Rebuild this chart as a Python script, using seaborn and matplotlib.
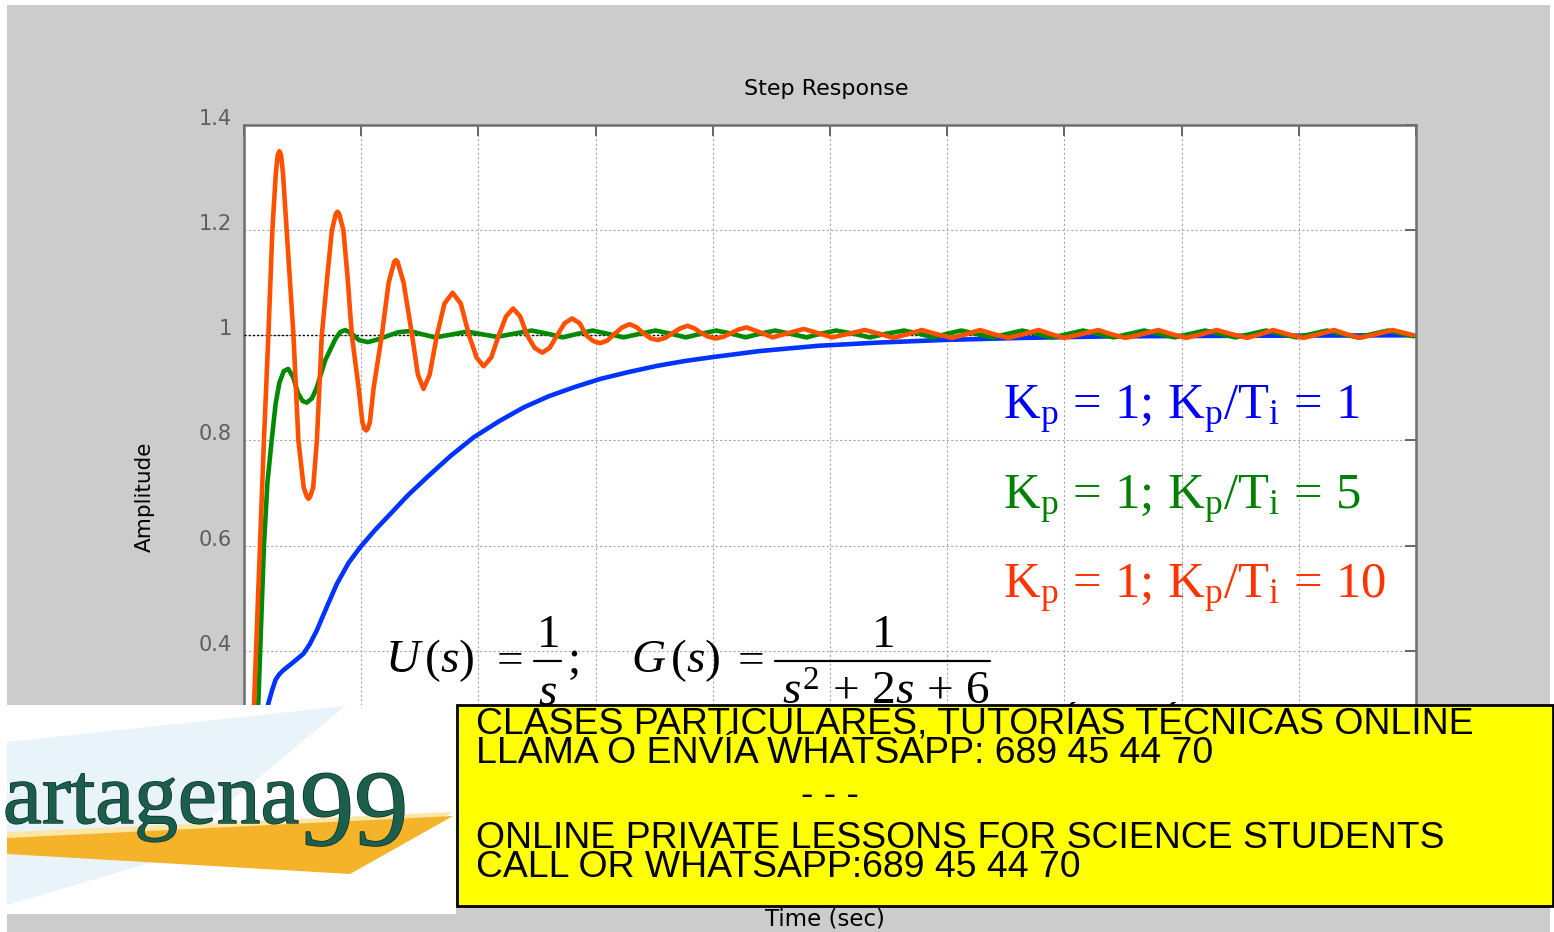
import matplotlib
matplotlib.use("Agg")
import matplotlib.pyplot as plt
import matplotlib.patheffects as pe
from matplotlib.patches import Rectangle, Polygon
from matplotlib.lines import Line2D
import pandas as pd
import seaborn as sns

# ---- step responses of the PI loop, Kp = 1 and Kp/Ti = 1, 5, 10 ----
t_ki1 = [0.0, 0.25, 0.5, 0.75, 0.9, 1.04, 1.2, 1.35, 1.5, 1.68, 2.10, 2.53,
         2.80, 3.11, 3.50, 3.96, 4.46, 4.96, 5.60, 6.24, 7.00, 7.81, 8.80,
         9.80, 10.90, 11.94, 13.00, 14.07, 15.20, 16.40, 17.64, 18.80, 19.91,
         22.00, 24.49, 27.00, 29.80, 33.20, 37.00, 42.00, 49.90]
y_ki1 = [0.000, 0.03, 0.11, 0.21, 0.255, 0.300, 0.325, 0.345, 0.355, 0.363,
         0.378, 0.394, 0.412, 0.439, 0.480, 0.527, 0.567, 0.597, 0.630, 0.660,
         0.696, 0.730, 0.770, 0.806, 0.837, 0.863, 0.884, 0.901, 0.917, 0.930,
         0.942, 0.951, 0.958, 0.970, 0.980, 0.986, 0.991, 0.995, 0.998, 0.999,
         1.000]

t_ki5 = [0.0, 0.3, 0.61, 0.85, 1.0, 1.18, 1.35, 1.51, 1.70, 1.89,
         2.10, 2.30, 2.50, 2.68, 2.90, 3.10, 3.46, 3.90, 4.10, 4.32,
         4.60, 4.90, 5.28, 5.70, 6.20, 6.60, 7.09, 7.60, 8.16, 8.80,
         9.52, 10.15, 10.80, 11.50, 12.28, 12.95, 13.60, 14.25, 14.87, 15.50,
         16.20, 16.90, 17.55, 18.20, 18.85, 19.50, 20.15, 20.80, 21.40, 22.00,
         22.66, 23.30, 24.00, 24.60, 25.26, 26.00, 26.70, 27.40, 28.16, 28.80,
         29.40, 30.00, 30.60, 31.90, 33.20, 34.50, 35.80, 37.10, 38.40, 39.70,
         41.00, 42.30, 43.60, 44.90, 46.20, 47.50, 48.80, 49.90]
y_ki5 = [0.000, 0.10, 0.30, 0.60, 0.72, 0.80, 0.87, 0.91, 0.932, 0.936,
         0.92, 0.89, 0.875, 0.872, 0.88, 0.90, 0.952, 0.993, 1.006, 1.010,
         1.003, 0.991, 0.987, 0.992, 1.000, 1.006, 1.008, 1.002, 0.996, 1.001,
         1.007, 1.002, 0.997, 1.003, 1.009, 1.003, 0.996, 1.003, 1.009, 1.003,
         0.996, 1.003, 1.009, 1.003, 0.996, 1.003, 1.009, 1.003, 0.996, 1.003,
         1.009, 1.003, 0.996, 1.003, 1.009, 1.003, 0.996, 1.003, 1.009, 1.003,
         0.996, 1.003, 1.009, 0.996, 1.009, 0.996, 1.009, 0.996, 1.009, 0.996,
         1.009, 0.996, 1.009, 0.996, 1.009, 0.996, 1.009, 0.998]

t_ki10 = [0.0, 0.2, 0.43, 0.68, 0.85, 1.04, 1.21, 1.36, 1.44, 1.51,
          1.58, 1.66, 1.82, 2.11, 2.32, 2.55, 2.68, 2.75, 2.82, 2.95,
          3.11, 3.32, 3.55, 3.75, 3.92, 3.99, 4.06, 4.24, 4.42, 4.60,
          4.89, 5.05, 5.14, 5.21, 5.28, 5.37, 5.53, 5.88, 6.17, 6.41,
          6.48, 6.55, 6.81, 7.17,
          7.42, 7.66, 7.92, 8.23, 8.55, 8.90,
          9.25, 9.60, 9.92, 10.22, 10.55, 10.87, 11.18, 11.48, 11.78, 12.08,
          12.40, 12.72, 13.04, 13.36, 13.68, 14.00, 14.32, 14.60, 14.90, 15.19,
          15.50, 15.82, 16.13, 16.45, 16.76, 17.06, 17.35, 17.65, 17.97, 18.28,
          18.60, 18.92, 19.22, 19.52, 19.83, 20.13, 20.45, 20.78, 21.10, 21.44,
          21.99, 22.55, 23.20, 23.88, 24.50, 25.10, 25.80, 26.48, 27.10, 27.70,
          28.30, 28.92, 29.56, 30.20, 30.80, 31.40, 32.00, 32.60, 33.25, 33.90,
          34.45, 35.00, 35.70, 36.45, 37.00, 37.60, 38.30, 39.00, 39.60, 40.20,
          40.85, 41.50, 42.15, 42.80, 43.35, 43.90, 44.55, 45.20, 45.85, 46.50,
          47.05, 47.60, 48.30, 49.00, 49.90]
y_ki10 = [0.000, 0.07, 0.30, 0.60, 0.80, 1.00, 1.20, 1.31, 1.343, 1.350,
          1.343, 1.31, 1.20, 1.00, 0.80, 0.71, 0.693, 0.689, 0.693, 0.71,
          0.80, 1.00, 1.11, 1.20, 1.231, 1.235, 1.231, 1.20, 1.11, 1.00,
          0.90, 0.835, 0.822, 0.819, 0.822, 0.835, 0.90, 1.00, 1.10, 1.140,
          1.143, 1.140, 1.10, 1.00,
          0.925, 0.898, 0.925, 1.00, 1.06, 1.081,
          1.06, 1.00, 0.958, 0.941, 0.958, 1.00, 1.036, 1.051, 1.036, 1.00,
          0.976, 0.967, 0.976, 1.00, 1.023, 1.032, 1.023, 1.00, 0.989, 0.985,
          0.990, 1.003, 1.015, 1.021, 1.015, 1.003, 0.994, 0.991, 0.995, 1.004,
          1.013, 1.018, 1.013, 1.004, 0.997, 0.994, 0.997, 1.004, 1.011, 1.015,
          1.006, 0.996, 1.004, 1.012, 1.004, 0.996, 1.003, 1.010, 1.003, 0.995,
          1.002, 1.010, 1.002, 0.995, 1.002, 1.010, 1.002, 0.995, 1.002, 1.010,
          1.002, 0.995, 1.002, 1.010, 1.002, 0.995, 1.002, 1.010, 1.002, 0.995,
          1.002, 1.010, 1.002, 0.995, 1.002, 1.010, 1.002, 0.995, 1.002, 1.010,
          1.002, 0.995, 1.002, 1.010, 1.000]

series_names = ["Kp/Ti = 1", "Kp/Ti = 5", "Kp/Ti = 10"]
line_colors = ["#0033ff", "#008a00", "#ff5000"]
label_texts = [r"$\mathrm{K_p\,=\,1;\,K_p/T_i\,=\,1}$",
               r"$\mathrm{K_p\,=\,1;\,K_p/T_i\,=\,5}$",
               r"$\mathrm{K_p\,=\,1;\,K_p/T_i\,=\,10}$"]
label_colors = ["#0000ff", "#008000", "#ff3300"]

x_ticks = [0, 5, 10, 15, 20, 25, 30, 35, 40, 45, 50]
y_ticks = [0, 0.2, 0.4, 0.6, 0.8, 1.0, 1.2, 1.4]
y_tick_labels = ["0", "0.2", "0.4", "0.6", "0.8", "1", "1.2", "1.4"]

banner_lines = ["CLASES PARTICULARES, TUTORÍAS TÉCNICAS ONLINE",
                "LLAMA O ENVÍA WHATSAPP: 689 45 44 70",
                "- - -",
                "ONLINE PRIVATE LESSONS FOR SCIENCE STUDENTS",
                "CALL OR WHATSAPP:689 45 44 70"]

frames = []
for name, t, y in zip(series_names, [t_ki1, t_ki5, t_ki10], [y_ki1, y_ki5, y_ki10]):
    frames.append(pd.DataFrame({"Time": t, "Amplitude": y, "series": name}))
data = pd.concat(frames, ignore_index=True)

sns.set_style("white")
plt.rcParams["font.family"] = ["DejaVu Sans"]
plt.rcParams["mathtext.fontset"] = "custom"
plt.rcParams["mathtext.rm"] = "Liberation Serif"
plt.rcParams["mathtext.it"] = "Liberation Serif:italic"
plt.rcParams["mathtext.bf"] = "Liberation Serif:bold"

W, H = 1554, 932
fig = plt.figure(figsize=(W / 100, H / 100), dpi=100, facecolor="white")


def fx(px):
    return px / W


def fy(py):
    return 1 - py / H


def fig_rect(x0, y0, x1, y1, **kw):
    r = Rectangle((fx(x0), fy(y1)), (x1 - x0) / W, (y1 - y0) / H,
                  transform=fig.transFigure, **kw)
    fig.add_artist(r)
    return r


def fig_poly(points, **kw):
    p = Polygon([(fx(x), fy(y)) for x, y in points], closed=True,
                transform=fig.transFigure, **kw)
    fig.add_artist(p)
    return p


def fig_hline(x0, x1, y, **kw):
    ln = Line2D([fx(x0), fx(x1)], [fy(y), fy(y)], transform=fig.transFigure, **kw)
    fig.add_artist(ln)
    return ln


# grey window background
fig_rect(7, 5, 1550, 932, facecolor="#cccccc", edgecolor="none", zorder=-10)

ax = fig.add_axes([fx(244), fy(861), (1416 - 244) / W, (861 - 125) / H])
ax.set_facecolor("white")

sns.lineplot(data=data, x="Time", y="Amplitude", hue="series",
             hue_order=series_names, palette=line_colors, sort=False,
             estimator=None, linewidth=3.3, legend=False, ax=ax, zorder=4)

ax.set_xlim(0, 50)
ax.set_ylim(0, 1.4)
ax.set_xticks(x_ticks)
ax.set_yticks(y_ticks)
ax.set_yticklabels(y_tick_labels)
ax.grid(True, color="#a8a8a8", linestyle=(0, (2, 2)), linewidth=0.8)
ax.axhline(1.0, color="black", linestyle=(0, (1.5, 1.5)), linewidth=1.0, zorder=3)
for s in ax.spines.values():
    s.set_color("#6e6e6e")
    s.set_linewidth(1.8)
ax.tick_params(direction="in", length=8, width=1.4, color="#666666",
               top=True, right=True, labelsize=15, labelcolor="#5e5e5e", pad=9,
               labelbottom=False)
for lbl in ax.get_yticklabels():
    lbl.set_verticalalignment("baseline")

ax.text(0.497, 1.049, "Step Response", transform=ax.transAxes, ha="center",
        va="center", fontsize=16, color="black")
ax.set_ylabel("Amplitude", fontsize=15.5, color="black")
ax.yaxis.set_label_coords(-0.076, 0.4946)
ax.set_xlabel("Time (sec)", fontsize=16.5, color="black")
ax.xaxis.set_label_coords(0.496, -0.063)

# gain labels
for txt, col, yv in zip(label_texts, label_colors, [0.841, 0.670, 0.4995]):
    ax.text(32.4, yv, txt, color=col, fontsize=36.5, ha="left", va="baseline", zorder=5)

# input and plant transfer functions
eq_size = 34
eq_kw = dict(fontsize=eq_size, color="black", va="baseline", zorder=6)
fig.text(fx(385), fy(672), r"$U\,(s)$", ha="left", **eq_kw)
fig.text(fx(507), fy(672), r"$=$", ha="center", **eq_kw)
fig.text(fx(547.5), fy(647), r"$1$", ha="center", **eq_kw)
fig_hline(534, 561, 661, color="black", linewidth=1.6, zorder=6)
fig.text(fx(547.5), fy(705), r"$s$", ha="center", **eq_kw)
fig.text(fx(567), fy(672), r"$;$", ha="left", **eq_kw)
fig.text(fx(631), fy(672), r"$G\,(s)$", ha="left", **eq_kw)
fig.text(fx(748), fy(672), r"$=$", ha="center", **eq_kw)
fig.text(fx(882.5), fy(647), r"$1$", ha="center", **eq_kw)
fig_hline(775, 990, 661, color="black", linewidth=1.6, zorder=6)
fig.text(fx(886), fy(705), r"$s^2\,+\,2s\,+\,6$", ha="center", **eq_kw)

# ---- banner across the bottom ----
fig_rect(0, 705, 456, 914, facecolor="white", edgecolor="none", zorder=10)
fig_poly([(7, 742), (345, 706), (160, 860), (7, 905)],
         facecolor="#e8f4fa", edgecolor="none", zorder=11)
fig_poly([(7, 832), (453, 812), (440, 820), (7, 840)],
         facecolor="#fbe6a8", edgecolor="none", zorder=11)
fig_poly([(7, 838), (453, 816), (350, 874), (7, 854)],
         facecolor="#f4b328", edgecolor="none", zorder=12)
fig.text(fx(3), fy(823), "artagena", fontsize=63, family="Liberation Serif",
         color="#1c5e4c", ha="left", va="baseline", zorder=13,
         path_effects=[pe.withStroke(linewidth=1.0, foreground="#0b2a22")])
fig.text(fx(300), fy(845), "99", fontsize=78, family="Liberation Serif",
         color="#1c5e4c", ha="left", va="baseline", zorder=13,
         path_effects=[pe.withStroke(linewidth=1.0, foreground="#0b2a22")])

fig_rect(457, 705, 1553, 906, facecolor="#ffff00", edgecolor="black",
         linewidth=2, zorder=10)
banner_pos = [(476, 733, "left"), (476, 763, "left"), (830, 805, "center"),
              (476, 848, "left"), (476, 877, "left")]
for (bx, by, ha), line in zip(banner_pos, banner_lines):
    fig.text(fx(bx), fy(by), line, fontsize=26.9, family="Liberation Sans",
             color="black", ha=ha, va="baseline", zorder=14)

fig.savefig("out.png", dpi=100)
